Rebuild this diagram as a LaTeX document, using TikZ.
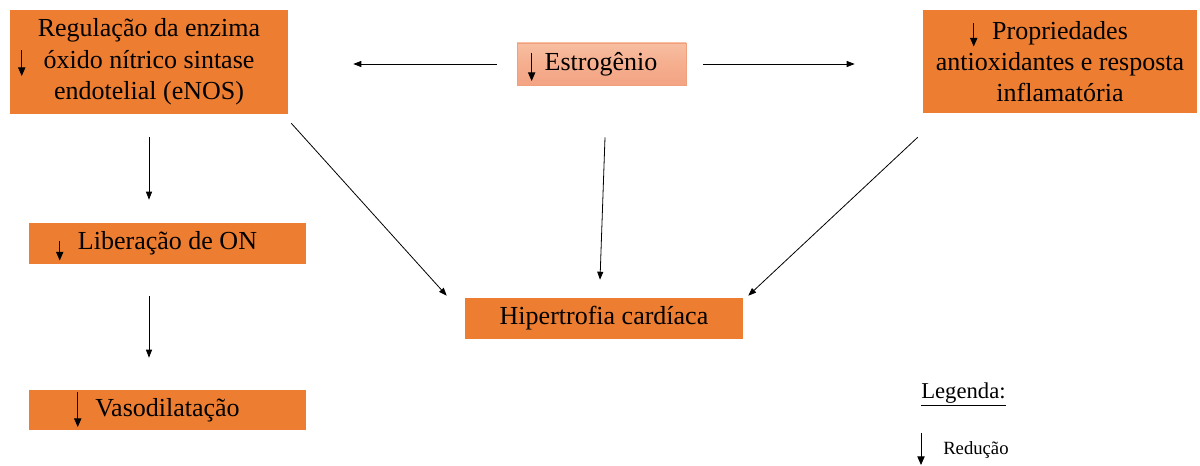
\documentclass[tikz,border=0pt]{standalone}
\usepackage{fontspec}
\setmainfont{Liberation Serif}
\usetikzlibrary{arrows.meta,calc}
\definecolor{boxorange}{HTML}{ED7D31}
\definecolor{salmonT}{HTML}{F8BEA2}
\definecolor{salmonM}{HTML}{F5AE8E}
\definecolor{salmonBt}{HTML}{F3A484}
\definecolor{salmonB}{HTML}{F0A07C}
\tikzset{
  tip/.style={-{Triangle[length=6pt,width=4.5pt]}},
  conn/.style={tip, line width=0.6pt, black},
  mini/.style={-{Triangle[length=6.5pt,width=5.5pt]}, line width=0.7pt, black},
  obox/.style={fill=boxorange, draw=none, inner sep=0pt, align=center,
    font=\fontsize{19.5pt}{23.5pt}\selectfont},
  ebox/.style={top color=salmonT, bottom color=salmonBt, middle color=salmonM,
    draw=salmonB, line width=0.5pt, inner sep=0pt},
}
\begin{document}
\begin{tikzpicture}[x=0.75pt,y=-0.75pt]
\useasboundingbox (0,0) rectangle (1200,466);
% boxes
\node[obox, minimum width=208.5pt, minimum height=78pt] (reg) at (149,62)
  {Regulação da enzima\\óxido nítrico sintase\\endotelial (eNOS)};
\node[ebox, minimum width=126.75pt, minimum height=31.5pt] (est) at (601.5,64) {};
\node[anchor=center, font=\fontsize{19.5pt}{23.5pt}\selectfont, inner sep=0pt] (esttxt) at (601,64) {Estrogênio};
\node[obox, minimum width=205.5pt, minimum height=77.25pt] (prop) at (1060,61.5)
  {Propriedades\\antioxidantes e resposta\\inflamatória};
\node[obox, minimum width=207.75pt, minimum height=30.75pt] (lib) at (167.5,243.5) {Liberação de ON};
\node[obox, minimum width=207.75pt, minimum height=30pt] (vaso) at (167.5,410) {Vasodilatação};
\node[obox, minimum width=208.5pt, minimum height=30.75pt] (hip) at (604,318.5) {Hipertrofia cardíaca};
% inline reduction arrows
\draw[mini] ($(reg.west)+(12,-12)$) -- ($(reg.west)+(12,14)$);
\draw[mini] ($(est.west)+(15,-11)$) -- ($(est.west)+(15,17)$);
\draw[mini] ($(prop.west)+(51,-38)$) -- ($(prop.west)+(51,-15)$);
\draw[mini] ($(lib.west)+(31,-2)$) -- ($(lib.west)+(31,17)$);
\draw[mini] ($(vaso.west)+(49,-18)$) -- ($(vaso.west)+(49,17)$);
% connectors
\draw[conn, shorten <=15pt, shorten >=48.75pt] (est.west) -- (est.west -| reg.east);
\draw[conn, shorten <=12.75pt, shorten >=51pt] (est.east) -- (est.east -| prop.west);
\draw[conn, shorten <=17.25pt, shorten >=17.25pt] (reg.south) -- (reg.south |- lib.north);
\coordinate (libout) at (lib.south -| reg.south);
\coordinate (vasoin) at (vaso.north -| reg.south);
\draw[conn, shorten <=24pt, shorten >=24pt] (libout) -- (vasoin);
\draw[conn] ($(reg.south east)+(3,9)$) -- ($(hip.north west)+(-18,-2)$);
\draw[conn] ($(est.south)+(3.5,52)$) -- ($(hip.north)+(-4,-18)$);
\draw[conn] ($(prop.south west)+(-5,24)$) -- ($(hip.north east)+(5,-2)$);
% legend
\node[anchor=base west, inner sep=0pt, font=\fontsize{17pt}{20pt}\selectfont] (leg) at (921,399) {\underline{Legenda:}};
\node[anchor=base west, inner sep=0pt, font=\fontsize{14pt}{17pt}\selectfont] (red) at (943,455) {Redução};
\coordinate (legtop) at (921,433);
\coordinate (legbot) at (921,465);
\draw[mini] (legtop) -- (legbot);
\end{tikzpicture}
\end{document}
